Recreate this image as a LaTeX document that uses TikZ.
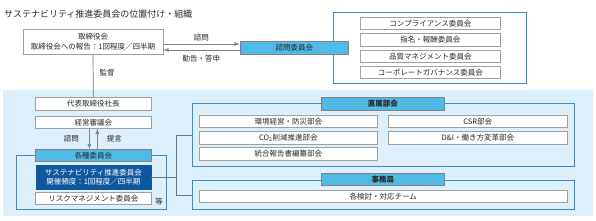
\documentclass[tikz,border=0pt]{standalone}
\usepackage{fontspec}
\setmainfont{Noto Sans CJK JP}
\usetikzlibrary{positioning}
\definecolor{bgblue}{RGB}{221,239,251}
\definecolor{headblue}{RGB}{80,185,230}
\definecolor{darkblue}{RGB}{16,88,158}
\definecolor{frameblue}{RGB}{58,140,200}
\definecolor{boxgray}{RGB}{160,160,160}
\definecolor{arrgray}{RGB}{130,130,130}
\definecolor{linkgray}{RGB}{100,120,140}
\definecolor{textgray}{RGB}{40,40,40}

\begin{document}
\begin{tikzpicture}[x=1pt, y=-1pt, >=latex,
    every node/.style={font=\fontsize{7.5}{9.5}\selectfont, text=textgray, inner sep=0pt},
    wbox/.style={draw=boxgray, line width=0.7pt, fill=white, minimum height=12.3pt},
    hbox/.style={draw=arrgray, line width=0.7pt, fill=headblue, minimum height=12.5pt},
    frame/.style={draw=frameblue, line width=0.8pt},
    arr/.style={->, draw=arrgray, line width=0.8pt},
    link/.style={draw=linkgray, line width=0.7pt}]
    \useasboundingbox (0,0) rectangle (596,220);

    % Title
    \node[anchor=west, font=\fontsize{9}{10}\selectfont] (title) at (4,14) {サステナビリティ推進委員会の位置付け・組織};

    % Board and advisory committees
    \node[wbox, minimum width=140pt, minimum height=25pt, align=center] (board) at (93,41.5)
        {取締役会\\取締役会への報告：1回程度／四半期};
    \node[frame, minimum width=193.4pt, minimum height=71pt] (advframe) at (430,47.8) {};
    \node[hbox, minimum width=108.7pt] (advisory) at (294.3,48) {諮問委員会};
    \foreach \y/\t [count=\i] in {23.3/コンプライアンス委員会, 39.7/指名・報酬委員会,
        56.2/品質マネジメント委員会, 72.2/コーポレートガバナンス委員会}
        \node[wbox, minimum width=140.7pt] (adv\i) at (430.4,\y) {\t};

    \draw[arr] ([yshift=-2.5pt]board.east) -- ([yshift=-2.5pt]board.east -| advisory.west)
        node[midway, above=2pt] {諮問};
    \draw[arr] ([yshift=-8.5pt]board.east -| advisory.west) -- ([yshift=-8.5pt]board.east)
        node[midway, below=5pt] {勧告・答申};

    % Executive area
    \fill[bgblue] (3,90) rectangle (593,216);

    \node[wbox, minimum width=115.3pt, minimum height=12.7pt] (president) at (93.35,103.65) {代表取締役社長};
    \node[wbox, minimum width=115.3pt, minimum height=11.6pt] (council) at (93.35,122.5) {経営審議会};
    \draw[link] (board.south) -- (president.north) node[pos=0.44, right=6pt] {監督};

    \node[frame, minimum width=149.3pt, minimum height=53.6pt] (cmtframe) at (91.35,182.5) {};
    \node[hbox, minimum width=115.3pt, minimum height=11.7pt] (committees) at (93.35,155.2) {各種委員会};
    \node[fill=darkblue, draw=darkblue, text=white, minimum width=115.3pt, minimum height=24pt, align=center]
        (sust) at (93.35,177) {サステナビリティ推進委員会\\開催頻度：1回程度／四半期};
    \node[wbox, minimum width=115.3pt, minimum height=11.7pt] (risk) at (93.35,198.2) {リスクマネジメント委員会};
    \node (etc) at (159,201.7) {等};

    \draw[arr] ([xshift=-4pt]council.south) -- ([xshift=-4pt]council.south |- committees.north)
        node[midway, left=10pt] {諮問};
    \draw[arr] ([xshift=4pt]committees.north) -- ([xshift=4pt]committees.north |- council.south)
        node[midway, right=9pt] {提言};

    % Direct sections
    \node[frame, minimum width=381.7pt, minimum height=63.4pt] (direct) at (383.15,135) {};
    \node[hbox, minimum width=122.3pt, minimum height=12.7pt, font=\fontsize{7.5}{9}\selectfont\bfseries]
        (directhead) at (382.85,103.65) {直属部会};
    \foreach \y/\t [count=\i] in {121.35/環境経営・防災部会, 137.85/{CO\textsubscript{2}削減推進部会},
        153.85/統合報告書編纂部会}
        \node[wbox, minimum width=178.7pt, minimum height=12.5pt] (secl\i) at (288.35,\y) {\t};
    \foreach \y/\t [count=\i] in {121.35/CSR部会, 137.85/D\&I・働き方変革部会}
        \node[wbox, minimum width=179pt, minimum height=12.5pt] (secr\i) at (477.8,\y) {\t};

    % Secretariat
    \node[frame, minimum width=381.7pt, minimum height=28.6pt] (office) at (383.15,195) {};
    \node[hbox, minimum width=122.3pt, minimum height=12.4pt, font=\fontsize{7.5}{9}\selectfont\bfseries]
        (officehead) at (382.85,179.5) {事務局};
    \node[wbox, minimum width=368.3pt, minimum height=12.3pt] (team) at (383.15,196.15) {各検討・対応チーム};

    % Links to sections
    \draw[link] (sust.east) -- ++(25,0) coordinate (split);
    \draw[link] (direct.west) -- (direct.west -| split) -- (office.west -| split) -- (office.west);
\end{tikzpicture}
\end{document}
